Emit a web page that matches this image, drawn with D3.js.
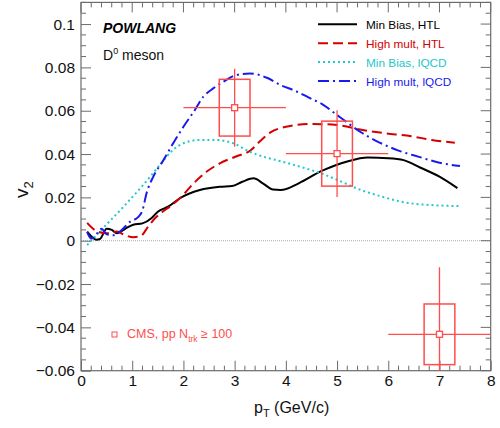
<!DOCTYPE html>
<html>
<head>
<meta charset="utf-8">
<script src="https://cdn.jsdelivr.net/npm/d3@7"></script>
<style>
  body { margin: 0; background: #fff; }
  svg { font-family: "Liberation Sans", Arial, sans-serif; }
</style>
</head>
<body>
<div id="chart"></div>
<script>
// --- data ---
const ptMbHtl = [0.12, 0.21, 0.3, 0.37, 0.5, 0.6, 0.7, 0.8, 0.9, 1.02, 1.2, 1.38, 1.5, 1.7, 1.93, 2.32, 2.71, 2.95, 3.15, 3.37, 3.55, 3.75, 3.9, 4.25, 4.7, 5.2, 5.6, 6.0, 6.3, 6.62, 7.0, 7.35];
const v2MbHtl = [0.0042, 0.0018, 0.0005, 0.0008, 0.0055, 0.005, 0.0035, 0.0045, 0.006, 0.0074, 0.008, 0.0105, 0.0134, 0.0157, 0.0196, 0.0234, 0.0249, 0.0252, 0.0272, 0.0288, 0.0265, 0.0236, 0.0234, 0.0265, 0.0322, 0.0366, 0.0384, 0.0381, 0.0372, 0.0338, 0.0296, 0.0243];

const ptHmHtl = [0.12, 0.3, 0.5, 0.7, 0.86, 1.02, 1.17, 1.31, 1.45, 1.6, 1.75, 1.93, 2.2, 2.45, 2.71, 3.04, 3.3, 3.5, 3.7, 4.08, 4.5, 5.0, 5.5, 5.9, 6.45, 6.85, 7.3];
const v2HmHtl = [0.0082, 0.0045, 0.0035, 0.0042, 0.0026, 0.0016, 0.0022, 0.0065, 0.0105, 0.0135, 0.016, 0.0196, 0.0265, 0.0318, 0.0357, 0.039, 0.0415, 0.046, 0.0500, 0.0529, 0.0539, 0.0534, 0.0511, 0.0497, 0.0482, 0.0465, 0.0452];

const ptMbLqcd = [0.12, 0.5, 0.83, 1.15, 1.35, 1.54, 1.8, 2.0, 2.32, 2.65, 2.97, 3.3, 3.56, 3.85, 4.3, 4.7, 5.06, 5.4, 5.9, 6.3, 6.8, 7.4];
const v2MbLqcd = [-0.002, 0.0075, 0.0157, 0.024, 0.0295, 0.035, 0.042, 0.045, 0.0465, 0.0465, 0.045, 0.041, 0.0388, 0.037, 0.034, 0.031, 0.0275, 0.024, 0.0202, 0.0178, 0.0165, 0.016];

const ptHmLqcd = [0.12, 0.2, 0.3, 0.4, 0.5, 0.62, 0.76, 0.96, 1.12, 1.2, 1.28, 1.41, 1.61, 1.8, 2.0, 2.2, 2.39, 2.58, 2.78, 3.0, 3.3, 3.63, 3.9, 4.2, 4.45, 4.7, 5.0, 5.2, 5.45, 5.84, 6.2, 6.6, 7.0, 7.4];
const v2HmLqcd = [0.004, 0.001, 0.003, 0.0055, 0.003, 0.0025, 0.0042, 0.0088, 0.011, 0.014, 0.0219, 0.0295, 0.0372, 0.045, 0.0526, 0.0595, 0.0665, 0.0703, 0.0734, 0.0762, 0.0772, 0.0752, 0.0718, 0.069, 0.066, 0.0632, 0.058, 0.0545, 0.0503, 0.0452, 0.0416, 0.0387, 0.036, 0.0345];

const cmsPt = [3, 5, 7];
const cmsV2 = [0.0614, 0.0402, -0.0432];
const cmsPtLow = [2, 4, 6];
const cmsPtHigh = [4, 6, 8];
const cmsStat = [0.018, 0.020, 0.031];
const cmsSys = [0.0131, 0.015, 0.014];
const cmsBoxHalf = [0.3, 0.3, 0.3];

const legendLabels = ["Min Bias, HTL", "High mult, HTL", "Min Bias, lQCD", "High mult, lQCD"];

const xTicks = [0, 1, 2, 3, 4, 5, 6, 7, 8];
const yTicks = [-0.06, -0.04, -0.02, 0, 0.02, 0.04, 0.06, 0.08, 0.1];

// --- layout ---
const width = 500, height = 428;
const frame = {left: 81, right: 490.7, top: 2.4, bottom: 370.7};
const axisColor = "#6b6b6b";
const cmsColor = "#ff4d4d";

const series = [
    {pt: ptMbHtl, v2: v2MbHtl, color: "#000000", dash: null},
    {pt: ptHmHtl, v2: v2HmHtl, color: "#d40000", dash: "10 5"},
    {pt: ptMbLqcd, v2: v2MbLqcd, color: "#22c8c8", dash: "2 3"},
    {pt: ptHmLqcd, v2: v2HmLqcd, color: "#1a1aee", dash: "11 4 2 4"},
];

const svg = d3.select("#chart").append("svg")
    .attr("width", width)
    .attr("height", height);

const x = d3.scaleLinear().domain([0, 8]).range([frame.left, frame.right]);
const y = d3.scaleLinear().domain([-0.06, 0.11]).range([frame.bottom, frame.top]);

svg.append("clipPath").attr("id", "plotclip")
    .append("rect")
    .attr("x", frame.left).attr("y", frame.top)
    .attr("width", frame.right - frame.left)
    .attr("height", frame.bottom - frame.top);

// dotted zero line
svg.append("line")
    .attr("x1", frame.left).attr("x2", frame.right)
    .attr("y1", y(0)).attr("y2", y(0))
    .attr("stroke", "#aaa")
    .attr("stroke-width", 1)
    .attr("stroke-dasharray", "1 1");

// --- axes, ROOT style with mirrored ticks ---
const xMinor = d3.range(0, 8.001, 0.2);
const yMinor = d3.range(-0.06, 0.1101, 0.005);

const bottomAxis = d3.axisBottom(x).tickValues(xTicks).tickFormat(d3.format("d"))
    .tickSizeInner(-10).tickSizeOuter(0).tickPadding(4);
const leftAxis = d3.axisLeft(y).tickValues(yTicks)
    .tickFormat(d => d === 0 ? "0" : d3.format("~g")(d).replace("-", "\u2212"))
    .tickSizeInner(-10).tickSizeOuter(0).tickPadding(6);

const gx = svg.append("g").attr("transform", `translate(0,${frame.bottom})`).call(bottomAxis);
const gy = svg.append("g").attr("transform", `translate(${frame.left},0)`).call(leftAxis);
[gx, gy].forEach(g => {
    g.select(".domain").remove();
    g.selectAll(".tick line").attr("stroke", axisColor);
    g.selectAll(".tick text").attr("fill", "#111").attr("font-size", 15.5);
});

// minor ticks + mirrored ticks
const ticks = svg.append("g").attr("stroke", axisColor).attr("stroke-width", 1);
xMinor.forEach(v => {
    const major = Math.abs(v - Math.round(v)) < 1e-6;
    const len = major ? 10 : 5;
    if (!major) ticks.append("line").attr("x1", x(v)).attr("x2", x(v))
        .attr("y1", frame.bottom).attr("y2", frame.bottom - len);
    ticks.append("line").attr("x1", x(v)).attr("x2", x(v))
        .attr("y1", frame.top).attr("y2", frame.top + len);
});
yMinor.forEach(v => {
    const major = Math.abs(v / 0.02 - Math.round(v / 0.02)) < 1e-6;
    const len = major ? 10 : 5;
    if (!major) ticks.append("line").attr("x1", frame.left).attr("x2", frame.left + len)
        .attr("y1", y(v)).attr("y2", y(v));
    ticks.append("line").attr("x1", frame.right).attr("x2", frame.right - len)
        .attr("y1", y(v)).attr("y2", y(v));
});

svg.append("rect")
    .attr("x", frame.left).attr("y", frame.top)
    .attr("width", frame.right - frame.left)
    .attr("height", frame.bottom - frame.top)
    .attr("fill", "none")
    .attr("stroke", axisColor)
    .attr("stroke-width", 1.2);

// axis titles
const xt = svg.append("text")
    .attr("x", 254).attr("y", 413)
    .attr("font-size", 16).attr("fill", "#111");
xt.append("tspan").text("p");
xt.append("tspan").attr("font-size", 11).attr("dy", 4).text("T");
xt.append("tspan").attr("dy", -4).text(" (GeV/c)");

const yt = svg.append("text")
    .attr("transform", "translate(28,198) rotate(-90)")
    .attr("font-size", 19).attr("fill", "#111");
yt.append("tspan").text("v");
yt.append("tspan").attr("font-size", 13).attr("dy", 5).text("2");

// --- curves ---
const line = d3.line()
    .curve(d3.curveMonotoneX)
    .x(d => x(d[0]))
    .y(d => y(d[1]));

const curves = svg.append("g").attr("clip-path", "url(#plotclip)");
series.forEach(s => {
    curves.append("path")
        .datum(s.pt.map((p, i) => [p, s.v2[i]]))
        .attr("fill", "none")
        .attr("stroke", s.color)
        .attr("stroke-width", 2)
        .attr("stroke-dasharray", s.dash)
        .attr("d", line);
});

// --- CMS points ---
const cms = svg.append("g").attr("clip-path", "url(#plotclip)")
    .attr("stroke", cmsColor).attr("fill", "none").attr("stroke-width", 1.3);
cmsPt.forEach((p, i) => {
    cms.append("rect")
        .attr("x", x(p - cmsBoxHalf[i]))
        .attr("y", y(cmsV2[i] + cmsSys[i]))
        .attr("width", x(p + cmsBoxHalf[i]) - x(p - cmsBoxHalf[i]))
        .attr("height", y(cmsV2[i] - cmsSys[i]) - y(cmsV2[i] + cmsSys[i]))
        .attr("stroke-width", 1.5);
    cms.append("line")
        .attr("x1", x(cmsPtLow[i])).attr("x2", x(cmsPtHigh[i]))
        .attr("y1", y(cmsV2[i])).attr("y2", y(cmsV2[i]));
    cms.append("line")
        .attr("x1", x(p)).attr("x2", x(p))
        .attr("y1", y(cmsV2[i] + cmsStat[i])).attr("y2", y(cmsV2[i] - cmsStat[i]));
    cms.append("rect")
        .attr("x", x(p) - 3).attr("y", y(cmsV2[i]) - 3)
        .attr("width", 6).attr("height", 6)
        .attr("fill", "#fff");
});

// --- labels ---
svg.append("text")
    .attr("x", 103).attr("y", 32.5)
    .attr("font-size", 14).attr("font-weight", "bold").attr("font-style", "italic")
    .attr("fill", "#000")
    .text("POWLANG");

const dm = svg.append("text")
    .attr("x", 103).attr("y", 59.5)
    .attr("font-size", 14).attr("fill", "#111");
dm.append("tspan").text("D");
dm.append("tspan").attr("font-size", 9).attr("dy", -6).text("0");
dm.append("tspan").attr("dy", 6).text(" meson");

// --- legend ---
const leg = svg.append("g");
series.forEach((s, i) => {
    const ly = 24.3 + i * 18.9;
    leg.append("line")
        .attr("x1", 318).attr("x2", 357)
        .attr("y1", ly).attr("y2", ly)
        .attr("stroke", s.color)
        .attr("stroke-width", 2)
        .attr("stroke-dasharray", s.dash);
    leg.append("text")
        .attr("x", 366).attr("y", ly + 4.5)
        .attr("font-size", 11.8)
        .attr("fill", s.color)
        .text(legendLabels[i]);
});

// CMS legend entry
svg.append("rect")
    .attr("x", 112).attr("y", 332)
    .attr("width", 5).attr("height", 5)
    .attr("fill", "#fff").attr("stroke", cmsColor).attr("stroke-width", 1);
const cl = svg.append("text")
    .attr("x", 127).attr("y", 337.5)
    .attr("font-size", 12.5).attr("fill", cmsColor);
cl.append("tspan").text("CMS, pp N");
cl.append("tspan").attr("font-size", 8.5).attr("dy", 4).text("trk");
cl.append("tspan").attr("dy", -4).text(" \u2265 100");
</script>
</body>
</html>
